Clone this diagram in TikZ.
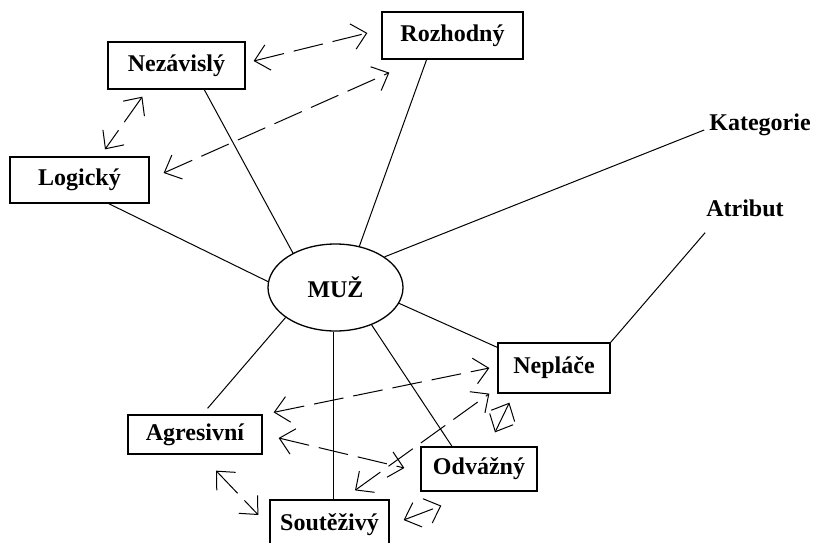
\documentclass[tikz,border=0pt]{standalone}
\usepackage{fontspec}
\setmainfont{Liberation Serif}
\usetikzlibrary{arrows.meta,shapes.geometric}

\begin{document}
\begin{tikzpicture}[x=1pt,y=-1pt,
			>={Straight Barb[length=14pt,width=26pt]},
			box/.style={draw,rectangle,line width=1.3pt,inner sep=0pt,font=\fontsize{24}{28}\selectfont\bfseries},
			tag/.style={inner sep=2pt,font=\fontsize{24}{28}\selectfont\bfseries},
			spoke/.style={line width=1pt},
			link/.style={<->,line width=1pt,dash pattern=on 30pt off 10pt}]
			\clip (0,0) rectangle (815,542);
			\fill[white] (0,0) rectangle (815,542);
			\node (muz) [box,ellipse,minimum width=135pt,minimum height=87pt] at (335.5,287.5) {MUŽ};
			\node (nez) [box,minimum width=137pt,minimum height=47pt] at (176.5,65.5) {Nezávislý};
			\node (roz) [box,minimum width=141pt,minimum height=47pt] at (452.5,35.5) {Rozhodný};
			\node (log) [box,minimum width=139pt,minimum height=46pt] at (79.5,180) {Logický};
			\node (nep) [box,minimum width=112pt,minimum height=50pt] at (554,368) {Nepláče};
			\node (odv) [box,minimum width=116pt,minimum height=44pt] at (479,469) {Odvážný};
			\node (agr) [box,minimum width=134pt,minimum height=39pt] at (195,434.5) {Agresivní};
			\node (sou) [box,minimum width=119pt,minimum height=50pt] at (329.5,525) {Soutěživý};
			\node (kat) [tag] at (760,125) {Kategorie};
			\node (atr) [tag] at (745,208) {Atribut};

			\draw[spoke] (nez.-41.6) -- (muz.141);
			\draw[spoke] (roz.-137.3) -- (muz.60);
			\draw[spoke] (log.-39.9) -- (muz.175);
			\draw[spoke] ([shift={(-3,5)}]kat.west) -- (muz.32);
			\draw[spoke] (muz.-14.7) -- (nep.160.3);
			\draw[spoke] (nep.north east) -- ([shift={(1,14)}]atr.south west);
			\draw[spoke] (muz.-46.5) -- (odv.140.8);
			\draw[spoke] (muz.-93) -- (muz.-93 |- sou.north);
			\draw[spoke] (muz.211) -- ([shift={(0,-6)}]agr.58.4);

			\draw[link] ([shift={(8,-4.5)}]nez.east) -- ([shift={(-14,-2.5)}]roz.west);
			\draw[link] ([shift={(14,-7)}]log.east) -- ([shift={(8,13)}]roz.south west);
			\draw[link] ([shift={(35,7)}]nez.south west) -- ([shift={(25.5,-7)}]log.north);
			\draw[link] ([shift={(11,-2)}]agr.north east) -- ([shift={(-8,0)}]nep.west);
			\draw[link] ([shift={(16,3.5)}]agr.east) -- ([shift={(-16,-1)}]odv.west);
			\draw[link] ([shift={(25.5,-9)}]sou.north) -- ([shift={(-8,0)}]nep.south west);
			\draw[link] ([shift={(14,-5)}]sou.east) -- ([shift={(21,14)}]odv.south west);
			\draw[link] ([shift={(12,9)}]nep.south west) -- ([shift={(16,-14)}]odv.north);
			\draw[link] ([shift={(21,16)}]agr.south) -- ([shift={(-11,-10)}]sou.west);
		\end{tikzpicture}
\end{document}
